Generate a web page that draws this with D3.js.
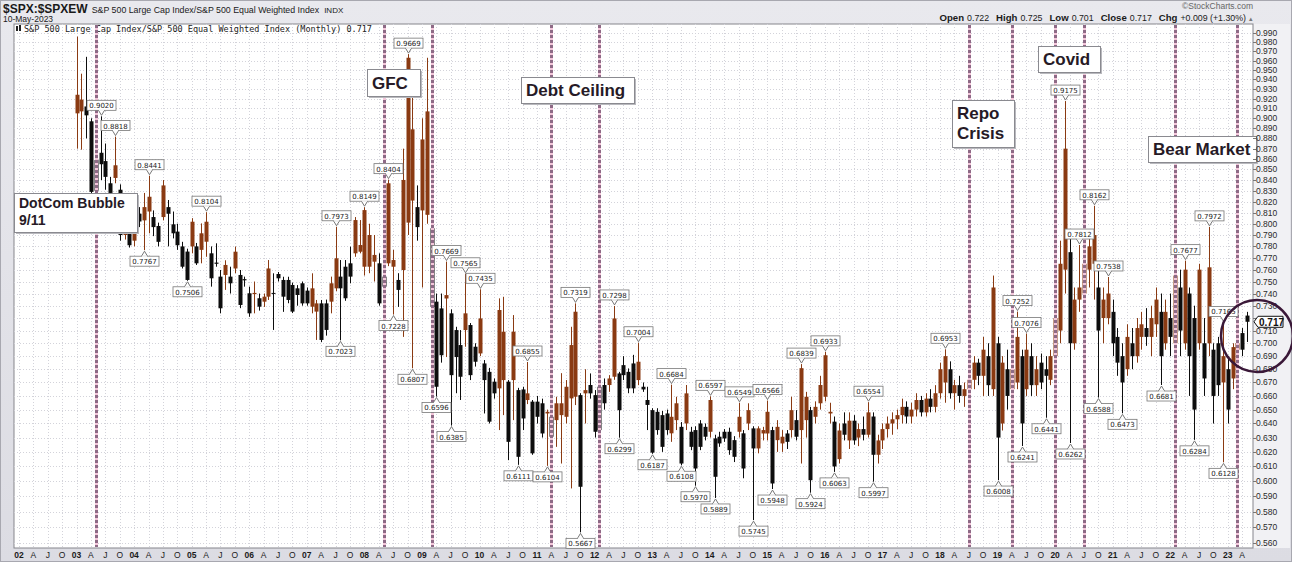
<!DOCTYPE html>
<html><head><meta charset="utf-8">
<script src="https://cdn.jsdelivr.net/npm/d3@7"></script>
<style>body{margin:0;background:#fff}svg{display:block}</style>
</head><body>
<svg id="c" width="1292" height="562"></svg>
<script>
// ---------- DATA (monthly bars from Jan 2003; month index 0 = Jan 2002) ----------
const firstMonth = 12;
const opens = [
 .905,.907,.912,.897,.859,.866,.858,.837,.842,.831,.790,.805,
 .785,.809,.803,.811,.806,.798,.806,.815,.7995,.793,.780,.7755,
 .780,.780,.777,.7841,.774,.766,.7541,.7555,.7541,.761,.7555,.752,
 .7402,.7395,.7361,.7333,.7374,.7405,.7563,.7513,.7513,.7471,.7443,.7485,
 .7424,.7292,.7252,.7319,.7319,.7333,.7443,.7541,.7625,.7654,.774,.7754,
 .7625,.7625,.7668,.7654,.7541,.7654,.7625,.7513,.7597,.801,.821,.815,
 .812,.808,.796,.7333,.7278,.7359,.7238,.7104,.6986,.7104,.7144,.6973,
 .6921,.6844,.678,.6706,.6656,.6718,.6706,.6718,.6643,.6648,.657,.6558,
 .6558,.6546,.6472,.6448,.6424,.646,.6448,.6582,.6594,.6606,.6619,.6681,
 .6606,.6668,.6681,.6681,.6743,.6768,.6831,.678,.6844,.6718,.6668,.657,
 .6496,.6484,.646,.6472,.633,.6424,.6376,.640,.6341,.6353,.640,.6376,
 .6341,.6294,.6306,.6341,.6341,.6282,.6341,.633,.640,.6365,.6224,.6329,
 .6329,.6353,.6282,.6259,.6329,.6353,.6424,.6353,.6424,.6496,.6448,.6546,
 .6594,.6472,.6413,.615,.640,.628,.642,.630,.636,.632,.645,.618,
 .628,.636,.640,.643,.646,.652,.645,.650,.657,.648,.658,.652,
 .662,.670,.680,.662,.668,.660,.665,.672,.685,.675,.690,.665,
 .700,.640,.680,.665,.670,.690,.665,.690,.668,.685,.680,.672,
 .690,.710,.760,.775,.700,.735,.740,.760,.765,.745,.720,.720,
 .725,.705,.690,.680,.700,.690,.705,.712,.705,.715,.725,.700,
 .720,.700,.745,.700,.740,.720,.700,.700,.700,.695,.700,.670,
 .680,.673,.695,.708,.722];
const highs = [
 .986,.946,.964,.900,.862,.902,.875,.843,.8818,.836,.812,.810,
 .812,.815,.828,.8441,.812,.801,.840,.8215,.811,.800,.784,.778,
 .805,.783,.8003,.8104,.780,.7827,.7597,.768,.7625,.7798,.7597,.7541,
 .7457,.750,.740,.740,.7682,.7569,.758,.754,.754,.749,.747,.750,
 .745,.7569,.7347,.7347,.735,.7541,.7973,.7682,.7682,.7798,.806,.8033,
 .8149,.800,.790,.774,.760,.8404,.777,.757,.870,.9669,.930,.835,
 .900,.963,.832,.740,.740,.7669,.727,.713,.7104,.7565,.716,.700,
 .7435,.687,.681,.673,.736,.7373,.6718,.7224,.666,.6668,.6855,.657,
 .660,.658,.650,.647,.6594,.677,.6718,.713,.7319,.662,.680,.6768,
 .6643,.669,.673,.6755,.7298,.678,.690,.6806,.691,.7004,.670,.6668,
 .651,.651,.649,.650,.6684,.6594,.641,.6681,.6376,.638,.6424,.640,
 .6597,.632,.6341,.636,.637,.631,.6549,.6353,.6546,.638,.638,.6376,
 .6566,.6376,.6424,.6353,.6353,.6594,.6496,.6839,.663,.652,.656,.675,
 .6933,.655,.645,.640,.648,.648,.646,.640,.645,.6554,.648,.632,
 .640,.645,.648,.650,.658,.656,.655,.662,.660,.662,.665,.668,
 .685,.6953,.686,.672,.675,.670,.678,.690,.688,.705,.700,.755,
 .705,.690,.695,.690,.7252,.695,.7076,.700,.690,.692,.690,.695,
 .725,.785,.9175,.790,.745,.7812,.775,.790,.8162,.760,.745,.7538,
 .735,.712,.700,.715,.712,.720,.725,.728,.730,.745,.740,.735,
 .740,.765,.760,.7677,.745,.730,.765,.720,.7972,.700,.705,.7165,
 .690,.700,.705,.712,.725];
const lows = [
 .870,.869,.880,.826,.825,.840,.831,.822,.837,.785,.786,.779,
 .780,.797,.7767,.7915,.789,.780,.803,.780,.787,.777,.761,.7506,
 .774,.764,.7654,.771,.7457,.7625,.7238,.743,.740,.757,.728,.7457,
 .721,.7238,.726,.729,.7347,.7105,.750,.725,.732,.724,.730,.730,
 .730,.7238,.7026,.701,.706,.7238,.742,.7023,.734,.7485,.771,.774,
 .755,.757,.750,.730,.742,.763,.7228,.729,.705,.790,.6807,.785,
 .745,.800,.725,.6596,.685,.6893,.6385,.662,.657,.6973,.6718,.682,
 .690,.6472,.640,.658,.6353,.646,.6143,.6424,.6111,.6353,.654,.618,
 .640,.630,.6104,.628,.6235,.612,.640,.5952,.6533,.5667,.640,.658,
 .630,.633,.650,.663,.672,.6299,.6718,.662,.662,.668,.663,.6353,
 .6187,.632,.620,.632,.627,.6353,.6108,.6353,.6212,.5970,.6212,.628,
 .630,.5889,.6235,.627,.618,.613,.630,.602,.6353,.5745,.619,.628,
 .628,.5948,.620,.620,.622,.630,.628,.612,.630,.5924,.640,.650,
 .656,.640,.6063,.612,.628,.622,.625,.624,.628,.630,.5997,.612,
 .622,.630,.632,.636,.640,.640,.640,.645,.645,.645,.648,.648,
 .658,.655,.658,.650,.655,.652,.650,.665,.668,.660,.660,.660,
 .6008,.635,.650,.650,.665,.6241,.660,.660,.660,.665,.6441,.668,
 .685,.700,.740,.6262,.695,.725,.730,.745,.735,.6588,.700,.715,
 .690,.675,.6473,.675,.680,.685,.695,.698,.690,.705,.6681,.695,
 .690,.690,.690,.695,.660,.6284,.695,.660,.690,.640,.660,.6128,
 .640,.665,.660,.690,.701];
const closes = [
 .924,.919,.903,.829,.830,.855,.843,.828,.854,.790,.805,.781,
 .809,.802,.815,.8245,.797,.784,.835,.809,.7915,.781,.7625,.7513,
 .8018,.7654,.7915,.8018,.7527,.765,.7279,.764,.7485,.7754,.7306,.751,
 .7238,.7405,.7292,.7374,.761,.7398,.7527,.7374,.7347,.7252,.7388,.7319,
 .7319,.7443,.7319,.7026,.7105,.7485,.7697,.7443,.7361,.7541,.8033,.7812,
 .8123,.790,.7726,.7319,.7457,.837,.7682,.743,.8401,.963,.889,.797,
 .879,.907,.729,.6668,.6907,.7387,.6755,.6893,.6743,.7238,.6755,.6857,
 .7197,.6718,.6413,.6619,.7265,.7091,.627,.7091,.6166,.6436,.6619,.619,
 .6448,.6329,.6484,.6306,.6546,.6546,.6668,.6986,.7251,.5963,.6643,.6619,
 .6341,.6353,.6546,.673,.7197,.6496,.6755,.6656,.6656,.6857,.6648,.6534,
 .6195,.6353,.6235,.6353,.6448,.6546,.612,.6619,.6235,.6086,.6235,.6306,
 .657,.603,.6259,.6294,.6212,.6166,.6448,.6086,.6496,.6224,.6365,.6353,
 .6484,.5985,.6376,.6306,.627,.6496,.6306,.6808,.6594,.6007,.652,.6681,
 .6907,.6484,.610,.635,.632,.642,.628,.636,.632,.648,.618,.628,
 .636,.640,.643,.646,.652,.645,.650,.657,.648,.658,.652,.662,
 .680,.690,.662,.668,.660,.665,.672,.685,.675,.695,.668,.745,
 .630,.685,.660,.680,.705,.640,.695,.668,.680,.670,.675,.690,
 .720,.765,.870,.700,.735,.745,.765,.780,.790,.710,.735,.740,
 .700,.685,.670,.705,.690,.712,.715,.705,.720,.735,.690,.725,
 .705,.755,.710,.760,.690,.650,.760,.673,.762,.660,.668,.690,
 .650,.697,.700,.695,.717];

// labelled swing points: month index, value, high/low
const pivotMonths = [17,20,27,26,39,35,66,67,72,77,78,81,82,87,89,90,93,96,104,106,110,116,117,124,125,129,132,136,138,141,144,145,150,153,156,157,163,165,168,170,177,178,193,204,208,209,210,214,218,219,221,224,225,227,230,238,243,245,248,251,251];
const pivotValues = [0.9020,0.8818,0.8441,0.7767,0.8104,0.7506,0.7973,0.7023,0.8149,0.8404,0.7228,0.9669,0.6807,0.6596,0.7669,0.6385,0.7565,0.7435,0.6111,0.6855,0.6104,0.7319,0.5667,0.7298,0.6299,0.7004,0.6187,0.6684,0.6108,0.5970,0.6597,0.5889,0.6549,0.5745,0.6566,0.5948,0.6839,0.5924,0.6933,0.6063,0.6554,0.5997,0.6953,0.6008,0.7252,0.6241,0.7076,0.6441,0.9175,0.6262,0.7812,0.8162,0.6588,0.7538,0.6473,0.6681,0.7677,0.6284,0.7972,0.7165,0.6128];
const pivotKinds = "hhhlhlhlhhlhllhlhhlhlhlhlhlhllhlhlhlhlhlhlhlhlhlhlhhlhllhlhhl";

const yTickValues = d3.range(56, 100).map(d => d / 100);
const yearLabels = d3.range(2, 24).map(d => String(d).padStart(2, "0"));
const quarterLetters = ["", "A", "J", "O"];
const eventMonths = [16, 76, 86, 111, 121, 198, 207, 216, 222, 241, 254];
const annotations = [
  {lines: ["DotCom Bubble", "9/11"], x: 14, y: 193, w: 123, h: 39, size: 14, lh: 17, base: 15},
  {lines: ["GFC"], x: 367, y: 69, w: 53, h: 27, size: 17, lh: 20, base: 20},
  {lines: ["Debt Ceiling"], x: 521, y: 77, w: 113, h: 26, size: 17, lh: 20, base: 19},
  {lines: ["Repo", "Crisis"], x: 952, y: 100, w: 62, h: 47, size: 17, lh: 20, base: 19},
  {lines: ["Covid"], x: 1038, y: 46, w: 62, h: 26, size: 17, lh: 20, base: 19},
  {lines: ["Bear Market"], x: 1148, y: 136, w: 108, h: 26, size: 17, lh: 20, base: 19}
];
const lastBar = {open: 0.722, high: 0.725, low: 0.701, close: 0.717, chg: "+0.009 (+1.30%)"};

// ---------- CHECK ----------
[opens, highs, lows, closes].forEach(a => { if (a.length !== 245) throw new Error("len " + a.length); });
if (pivotKinds.length !== pivotMonths.length || pivotValues.length !== pivotMonths.length) throw new Error("pivots");

const bars = opens.map((o, i) => ({m: firstMonth + i, o, h: highs[i], l: lows[i], c: closes[i]}));

// ---------- LAYOUT ----------
const svg = d3.select("#c");
const W = 1292, H = 562;
const P = {l: 14, r: 1253, t: 24, b: 548};
const x = d3.scaleLinear().domain([0, 256]).range([19, 1247]);
const y = d3.scaleLog().domain([0.56, 0.99]).range([543, 33]);

const defs = svg.append("defs");
const g1 = defs.append("linearGradient").attr("id", "bg").attr("x1", 0).attr("y1", 0).attr("x2", 0).attr("y2", 1);
g1.append("stop").attr("offset", 0).attr("stop-color", "#e9e9ee");
g1.append("stop").attr("offset", 1).attr("stop-color", "#dcdce3");
svg.append("rect").attr("width", W).attr("height", H).attr("fill", "url(#bg)");
svg.append("rect").attr("x", 0.5).attr("y", 0.5).attr("width", W - 1).attr("height", H - 1).attr("fill", "none").attr("stroke", "#a8a8b0");
svg.append("rect").attr("x", P.r).attr("y", P.t).attr("width", W - P.r - 2).attr("height", P.b - P.t).attr("fill", "#f1f1f4");

svg.append("rect").attr("x", P.l).attr("y", P.t).attr("width", P.r - P.l).attr("height", P.b - P.t)
  .attr("fill", "#fff").attr("stroke", "#85858c");

// grid
const grid = svg.append("g").attr("stroke", "#d3d3da").attr("stroke-dasharray", "1,2").attr("stroke-width", 1);
grid.selectAll("line.h").data(yTickValues).join("line")
  .attr("x1", P.l).attr("x2", P.r).attr("y1", d => Math.round(y(d)) + 0.5).attr("y2", d => Math.round(y(d)) + 0.5);
const quarterMonths = d3.range(0, 256, 3);
grid.selectAll("line.v").data(quarterMonths).join("line")
  .attr("y1", P.t).attr("y2", P.b).attr("x1", d => Math.round(x(d)) + 0.5).attr("x2", d => Math.round(x(d)) + 0.5);

// header text
const hdr = svg.append("g").attr("font-family", "Liberation Sans, Arial, sans-serif").attr("fill", "#1a1a1a");
const t1 = hdr.append("text").attr("x", 3).attr("y", 13);
t1.append("tspan").attr("font-size", 12).attr("font-weight", "bold").text("$SPX:$SPXEW");
t1.append("tspan").attr("dx", 4).attr("font-size", 8.8).text("S&P 500 Large Cap Index/S&P 500 Equal Weighted Index");
t1.append("tspan").attr("dx", 5).attr("font-size", 8).text("INDX");
hdr.append("text").attr("x", 3).attr("y", 22).attr("font-size", 8.5).text("10-May-2023");
hdr.append("text").attr("x", 1253).attr("y", 9).attr("font-size", 8.5).attr("fill", "#666").attr("text-anchor", "end").text("\u00A9StockCharts.com");
const ohlc = hdr.append("text").attr("x", 1246).attr("y", 21).attr("font-size", 8.8).attr("text-anchor", "end");
[["Open", lastBar.open.toFixed(3)], ["High", lastBar.high.toFixed(3)], ["Low", lastBar.low.toFixed(3)], ["Close", lastBar.close.toFixed(3)], ["Chg", lastBar.chg]]
  .forEach(([k, v], i) => {
    ohlc.append("tspan").attr("font-weight", "bold").attr("font-size", 9.6).attr("dx", i ? 7 : 0).text(k);
    ohlc.append("tspan").attr("dx", 3).text(v);
  });
hdr.append("text").attr("x", 1249).attr("y", 21).attr("font-size", 7).attr("fill", "#777").text("\u25B4");

// legend
svg.append("rect").attr("x", 16).attr("y", 26).attr("width", 2).attr("height", 5).attr("fill", "#222");
svg.append("rect").attr("x", 19).attr("y", 25).attr("width", 2).attr("height", 6).attr("fill", "#222");
svg.append("text").attr("x", 24).attr("y", 32).attr("font-family", "DejaVu Sans Mono, monospace").attr("font-size", 8.5)
  .attr("fill", "#222").text("S&P 500 Large Cap Index/S&P 500 Equal Weighted Index (Monthly) " + closes[closes.length - 1].toFixed(3));

// candles
const UP = "#8a3a12", DOWN = "#0d0d0d";
const cg = svg.append("g");
cg.selectAll("line.w").data(bars).join("line")
  .attr("x1", d => Math.round(x(d.m)) + 0.5).attr("x2", d => Math.round(x(d.m)) + 0.5)
  .attr("y1", d => y(Math.max(d.h, d.o, d.c))).attr("y2", d => y(Math.min(d.l, d.o, d.c)))
  .attr("stroke", d => d.c >= d.o ? UP : DOWN).attr("stroke-width", 1);
cg.selectAll("rect.b").data(bars).join("rect")
  .attr("x", d => Math.round(x(d.m)) - 1.5).attr("width", 4)
  .attr("y", d => y(Math.max(d.o, d.c)))
  .attr("height", d => Math.max(1, y(Math.min(d.o, d.c)) - y(Math.max(d.o, d.c))))
  .attr("fill", d => d.c >= d.o ? UP : DOWN);

// event lines
const ev = svg.append("g");
eventMonths.forEach(m => {
  const xx = Math.round(x(m)) + 0.5;
  ev.append("line").attr("x1", xx).attr("x2", xx).attr("y1", P.t + 1).attr("y2", P.b - 1)
    .attr("stroke", "#f3c6da").attr("stroke-width", 3);
  ev.append("line").attr("x1", xx).attr("x2", xx).attr("y1", P.t + 1).attr("y2", P.b - 1)
    .attr("stroke", "#8e6a86").attr("stroke-width", 3).attr("stroke-dasharray", "3,2");
});

// pivot labels
const pl = svg.append("g").attr("font-family", "DejaVu Sans, sans-serif").attr("font-size", 7);
pivotMonths.forEach((m, i) => {
  const v = pivotValues[i], hi = pivotKinds[i] === "h";
  const cx = Math.round(x(m)) + 0.5, py = y(v);
  const txt = v.toFixed(4), bw = 29, bh = 10;
  const by = hi ? py - 6 - bh : py + 6;
  const g = pl.append("g");
  g.append("path").attr("d", hi
      ? `M${cx - 3},${by + bh} L${cx},${py - 1} L${cx + 3},${by + bh}`
      : `M${cx - 3},${by} L${cx},${py + 1} L${cx + 3},${by}`)
    .attr("fill", "#fff").attr("stroke", "#777");
  g.append("rect").attr("x", cx - bw / 2).attr("y", by).attr("width", bw).attr("height", bh)
    .attr("fill", "#fff").attr("stroke", "#777").attr("stroke-width", 0.8);
  g.append("line").attr("x1", cx - 2.5).attr("x2", cx + 2.5).attr("y1", hi ? by + bh : by).attr("y2", hi ? by + bh : by).attr("stroke", "#fff").attr("stroke-width", 1.2);
  g.append("text").attr("x", cx).attr("y", by + 8).attr("text-anchor", "middle").attr("fill", "#222").text(txt);
});

// annotation boxes
const an = svg.append("g").attr("font-family", "Liberation Sans, Arial, sans-serif").attr("font-weight", "bold");
annotations.forEach(a => {
  an.append("rect").attr("x", a.x + 2).attr("y", a.y + 2).attr("width", a.w).attr("height", a.h).attr("fill", "#b9b9be");
  an.append("rect").attr("x", a.x + 0.5).attr("y", a.y + 0.5).attr("width", a.w).attr("height", a.h).attr("fill", "#fff").attr("stroke", "#8a8a90");
  a.lines.forEach((t, j) => an.append("text").attr("x", a.x + 5).attr("y", a.y + a.base + j * a.lh)
    .attr("font-size", a.size).attr("fill", "#261a26").text(t));
});

// right axis (the label hidden under the last-value tag is skipped, as in the source)
const ly = y(lastBar.close);
const ax = svg.append("g").attr("font-family", "Liberation Sans, Arial, sans-serif").attr("font-size", 8.5).attr("fill", "#2a2a2a");
yTickValues.forEach(v => {
  ax.append("line").attr("x1", P.r).attr("x2", P.r + 3).attr("y1", Math.round(y(v)) + 0.5).attr("y2", Math.round(y(v)) + 0.5).attr("stroke", "#777");
  if (Math.abs(y(v) - ly) > 7) ax.append("text").attr("x", P.r + 3).attr("y", y(v) + 3).text(v.toFixed(3));
});

// x axis labels
const xl = svg.append("g").attr("font-family", "Liberation Sans, Arial, sans-serif").attr("font-size", 8.5).attr("fill", "#1a1a1a").attr("text-anchor", "middle");
d3.range(0, 256, 3).forEach(m => {
  const q = (m % 12) / 3;
  const t = q === 0 ? yearLabels[m / 12] : quarterLetters[q];
  xl.append("text").attr("x", x(m)).attr("y", 558).attr("font-weight", q === 0 ? "bold" : "normal").text(t);
});

// last value tag and circle
svg.append("path").attr("d", `M${P.r + 1},${ly} L${P.r + 5},${ly - 5.5} L${P.r + 30},${ly - 5.5} L${P.r + 30},${ly + 5.5} L${P.r + 5},${ly + 5.5} Z`)
  .attr("fill", "#fff").attr("stroke", "#111").attr("stroke-width", 1);
svg.append("text").attr("x", P.r + 6).attr("y", ly + 4).attr("font-family", "Liberation Sans, Arial, sans-serif").attr("font-size", 10).attr("font-weight", "bold").attr("fill", "#111").text(lastBar.close.toFixed(3));
svg.append("circle").attr("cx", 1257).attr("cy", 336).attr("r", 36).attr("fill", "none").attr("stroke", "#3a1838").attr("stroke-width", 2.5);
</script>
</body></html>
